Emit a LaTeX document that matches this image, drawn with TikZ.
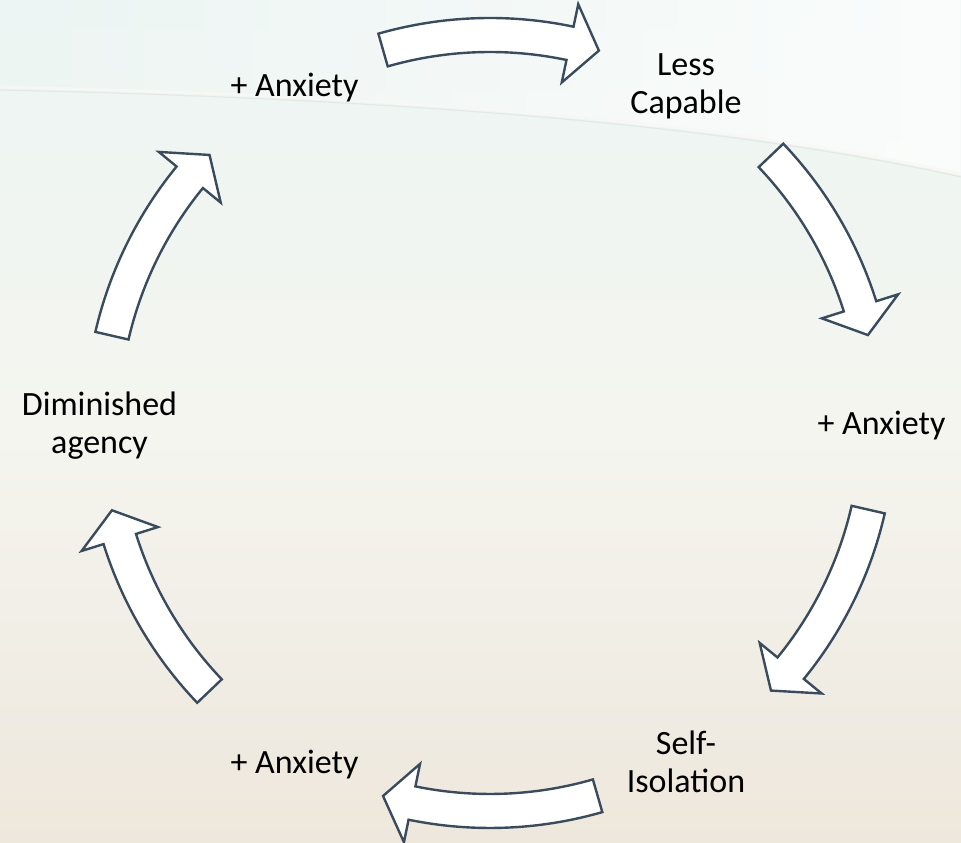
\documentclass[tikz,border=0pt]{standalone}
\usepackage{fontspec}
\setmainfont{Carlito}
\usetikzlibrary{fadings}
\definecolor{arrowline}{HTML}{3B4B5E}
\definecolor{bgtop}{HTML}{ECF5F3}
\definecolor{bgmid}{HTML}{F4F5EF}
\definecolor{bgbot}{HTML}{EEE7DC}
\definecolor{swooshhi}{HTML}{F8F8F5}
\definecolor{swooshlo}{HTML}{DDE1DF}
\tikzfading[name=fadein, left color=transparent!100, right color=transparent!0]
\newcommand{\twolines}[1]{\begin{tabular}[t]{@{}c@{}}#1\end{tabular}}
\newcommand{\cycarrow}[3]{%
  \draw[cyc] ([shift={(c)}]#1:405pt) arc[start angle=#1, end angle=#3, radius=405pt]
    -- ([shift={(c)}]#3:428pt) -- ([shift={(c)}]#2:388pt) -- ([shift={(c)}]#3:348pt)
    -- ([shift={(c)}]#3:371pt) arc[start angle=#3, end angle=#1, radius=371pt] -- cycle;}
\begin{document}
\begin{tikzpicture}[x=1pt,y=1pt,
  cyc/.style={draw=arrowline, fill=white, line width=2.4pt, line join=miter},
  lbl/.style={font=\fontsize{34}{38}\selectfont, text=black, inner sep=0pt, anchor=base}]
% background, drawn as thin horizontal bands
\useasboundingbox (0,0) rectangle (961,843);
\foreach \i in {0,...,42} {
  \pgfmathsetmacro{\p}{100-100*\i/42}
  \fill[bgtop!\p!bgmid] (0,{843-\i*10}) rectangle (961,{833-\i*10-0.6});
}
\foreach \i in {43,...,84} {
  \pgfmathsetmacro{\p}{100-100*(\i-43)/41}
  \fill[bgmid!\p!bgbot] (0,{843-\i*10}) rectangle (961,{833-\i*10-0.6});
}
\fill[white, path fading=fadein, opacity=0.75] (0,755) .. controls (450,745) and (750,715) .. (961,668) -- (961,843) -- (0,843) -- cycle;
\draw[swooshlo, line width=1.2pt, opacity=0.6] (0,753) .. controls (450,743) and (750,713) .. (961,666);
\draw[swooshhi, line width=2.5pt, opacity=0.9] (0,756) .. controls (450,746) and (750,716) .. (961,669);
% centre of the cycle
\coordinate (c) at (490,420);
% labels
\node[lbl] (anx1) at (294.5,746) {+ Anxiety};
\node[lbl] (less) at (686,767) {\twolines{Less\\Capable}};
\node[lbl] (anx2) at (881.5,408.5) {+ Anxiety};
\node[lbl] (self) at (686,88) {\twolines{Self-\\Isolation}};
\node[lbl] (anx3) at (294.5,69.5) {+ Anxiety};
\node[lbl] (dimi) at (99.5,427.5) {\twolines{Diminished\\agency}};
% curved block arrows (tail angle, tip angle, head-base angle)
\cycarrow{106}{73.7}{78.1}
\cycarrow{43.6}{13.1}{17.5}
\cycarrow{-12.9}{-43.6}{-39.2}
\cycarrow{-73.9}{-106}{-101.6}
\cycarrow{-136.3}{-167}{-162.6}
\cycarrow{167}{136.3}{140.7}
\end{tikzpicture}
\end{document}
